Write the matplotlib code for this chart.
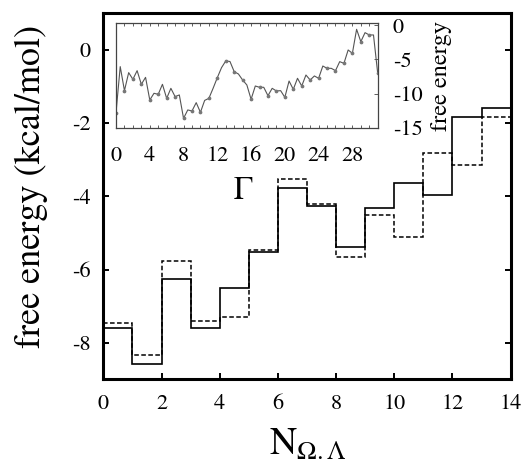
import numpy as np
import matplotlib
matplotlib.use('Agg')
import matplotlib.pyplot as plt

plt.rcParams['font.family'] = 'serif'
plt.rcParams['font.serif'] = ['STIXGeneral', 'Liberation Serif', 'DejaVu Serif']
plt.rcParams['mathtext.fontset'] = 'stix'
plt.rcParams['axes.unicode_minus'] = False

# main panel: step values for N = 0..13 (each bin [N, N+1])
n_edges = np.arange(0, 15)
fe_solid = [-7.59, -8.59, -6.26, -7.59, -6.51, -5.51, -3.76, -4.27, -5.38, -4.32, -3.64, -3.96, -1.84, -1.59]
fe_dashed = [-7.45, -8.33, -5.77, -7.41, -7.29, -5.46, -3.52, -4.21, -5.66, -4.51, -5.10, -2.82, -3.14, -1.82]

# inset: free energy vs Gamma, dots at integer Gamma, line read at half steps
gamma_dots = np.arange(0, 32)
fe_dots = [-12.8, -9.57, -7.91, -8.64, -10.94, -10.11, -10.70, -10.45, -13.63, -12.55, -12.75,
           -10.70, -7.67, -5.22, -6.79, -8.01, -10.84, -9.08, -10.31, -9.62, -10.55, -9.38,
           -8.89, -8.01, -7.76, -6.30, -6.64, -5.57, -4.10, -2.39, -1.41, -7.03]
gamma_half = np.arange(0.5, 31, 1.0)
fe_half = [-6.05, -6.93, -6.64, -7.62, -9.96, -8.64, -9.23, -10.2, -12.4, -11.33, -11.0,
           -9.23, -6.2, -5.3, -7.13, -8.74, -8.89, -9.08, -9.23, -9.57, -8.16, -7.76,
           -7.28, -7.42, -5.96, -6.30, -5.32, -3.61, -0.58, -1.07, -1.41]

gamma_line = np.empty(len(gamma_dots) + len(gamma_half))
gamma_line[0::2] = gamma_dots
gamma_line[1::2] = gamma_half
fe_line = np.empty_like(gamma_line)
fe_line[0::2] = fe_dots
fe_line[1::2] = fe_half

fig = plt.figure(figsize=(5.29, 4.65), dpi=100)
ax = fig.add_axes([0.1953, 0.1843, 0.7701, 0.7871])

ax.stairs(fe_solid, n_edges, baseline=None, color='black', lw=1.2)
ax.stairs(fe_dashed, n_edges, baseline=None, color='black', lw=1.1, linestyle=(0, (3, 1.6)))

ax.set_xlim(0, 14)
ax.set_ylim(-9, 1)
ax.set_xticks(range(0, 15, 2))
ax.set_yticks([0, -2, -4, -6, -8])
for spine in ax.spines.values():
    spine.set_linewidth(2.2)
ax.tick_params(axis='both', direction='in', length=4.5, width=1.4, labelsize=16)
ax.tick_params(axis='y', right=True, pad=9)
ax.tick_params(axis='x', top=False, pad=11)

fig.text(0.060, 0.598, 'free energy (kcal/mol)', rotation=90, ha='center', va='center', size=26)
fig.text(0.582, 0.0215, r'$\mathrm{N}_{\Omega.\Lambda}$', ha='center', va='baseline', size=27)

# inset
axi = fig.add_axes([0.2193, 0.7254, 0.4947, 0.2245])
axi.plot(gamma_line, fe_line, color='#555555', lw=0.8)
axi.plot(gamma_dots, fe_dots, 'o', color='#777777', ms=1.7)
axi.set_xlim(0, 31)
axi.set_ylim(-15, 0.3)
axi.set_xticks(range(0, 29, 4))
axi.set_xticks(range(0, 32), minor=True)
axi.set_yticks([0, -5, -10, -15])
axi.yaxis.tick_right()
for spine in axi.spines.values():
    spine.set_linewidth(0.9)
    spine.set_color('#444444')
axi.tick_params(axis='x', which='both', direction='in', top=True, length=2, width=0.6,
                color='#444444', labelsize=16, pad=13)
axi.tick_params(axis='y', direction='in', length=3, width=0.6, color='#444444',
                labelsize=16, pad=11)

fig.text(243 / 529, 1 - 191 / 465, 'Γ', ha='center', va='center', size=23)
fig.text(441.7 / 529, 1 - 76 / 465, 'free energy', rotation=90, ha='center', va='center', size=17.5)

fig.savefig('out.png', dpi=100)
